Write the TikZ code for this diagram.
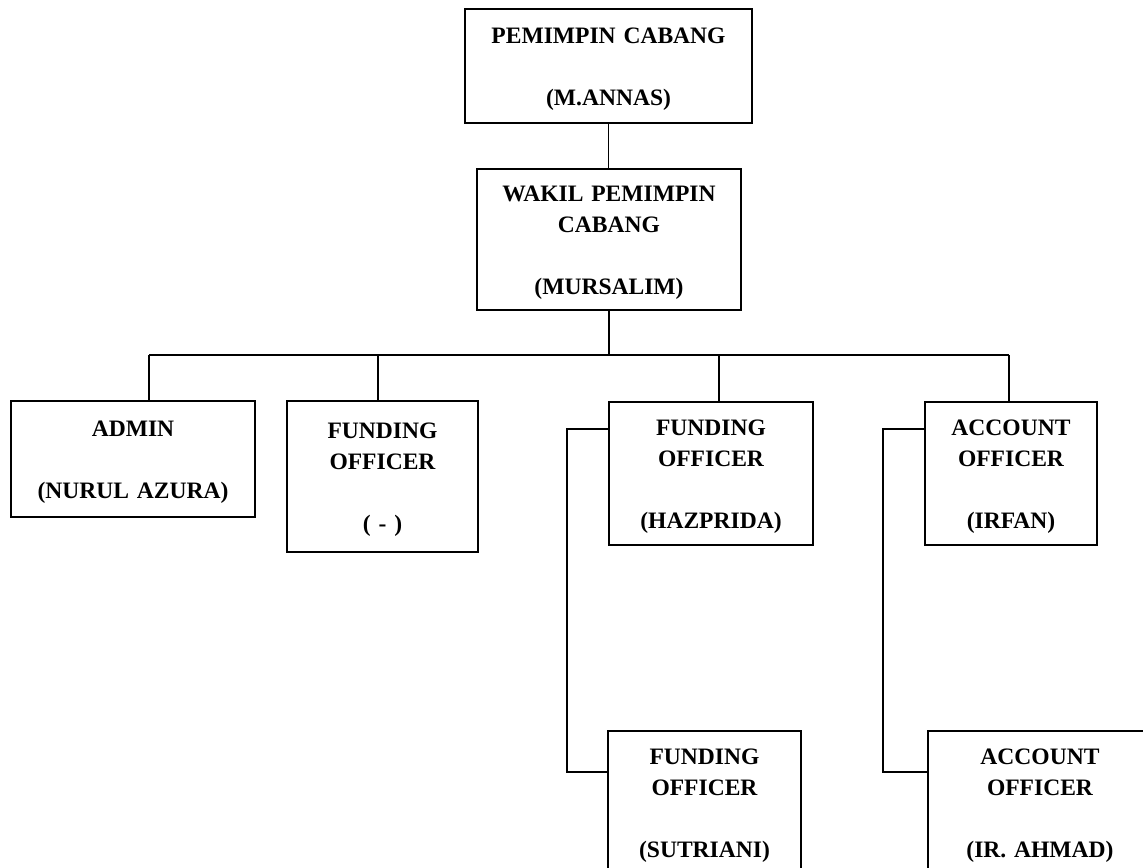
\documentclass[tikz,border=0pt]{standalone}
\usepackage{fontspec}
\setmainfont{Liberation Serif}
\usetikzlibrary{positioning}
\tikzset{%
	jabatan/.style = {draw, rectangle, line width=1.1pt, inner sep=0pt, align=center, font=\bfseries\fontsize{13.4}{17.6}\selectfont, execute at begin node={\rule{0pt}{12.7pt}}},
	garis/.style   = {line width=1pt},
}

\begin{document}
\begin{tikzpicture}
	\useasboundingbox (0,0) rectangle (22.86,-17.34);
	\clip (0,0) rectangle (22.86,-17.34);
	
	\node[jabatan, text width=5.74cm, minimum height=2.28cm] (pinca) at (12.17,-1.32) {PEMIMPIN CABANG\\[\baselineskip](M.ANNAS)};
	\node[jabatan, text width=5.28cm, minimum height=2.82cm] (wakil) at (12.18,-4.79) {WAKIL PEMIMPIN\\CABANG\\[\baselineskip](MURSALIM)};
	
	\node[jabatan, text width=4.88cm, minimum height=2.32cm] (admin) at (2.66,-9.18) {ADMIN\\[\baselineskip](NURUL AZURA)};
	\node[jabatan, text width=3.82cm, minimum height=3.02cm] (fo1) at (7.65,-9.53) {FUNDING\\OFFICER\\[\baselineskip]( - )};
	\node[jabatan, text width=4.08cm, minimum height=2.86cm] (fo2) at (14.22,-9.47) {FUNDING\\OFFICER\\[\baselineskip](HAZPRIDA)};
	\node[jabatan, text width=3.44cm, minimum height=2.86cm] (ao1) at (20.22,-9.47) {ACCOUNT\\OFFICER\\[\baselineskip](IRFAN)};
	\node[jabatan, text width=3.86cm, minimum height=2.84cm] (fo3) at (14.09,-16.04) {FUNDING\\OFFICER\\[\baselineskip](SUTRIANI)};
	\node[jabatan, text width=4.48cm, minimum height=2.84cm] (ao2) at (20.80,-16.04) {ACCOUNT\\OFFICER\\[\baselineskip](IR. AHMAD)};
	
	% garis komando
	\coordinate (jadmin) at (2.98,-7.10);
	\coordinate (jfo1) at (7.56,-7.10);
	\coordinate (jfo2) at (14.38,-7.10);
	\coordinate (jao1) at (20.18,-7.10);
	\draw[garis] (pinca.south) -- (pinca.south |- wakil.north);
	\draw[garis] (wakil.south) -- (wakil.south |- jadmin);
	\draw[garis] (jadmin) -- (jao1);
	\draw[garis] (jadmin) -- (jadmin |- admin.north);
	\draw[garis] (jfo1) -- (jfo1 |- fo1.north);
	\draw[garis] (jfo2) -- (jfo2 |- fo2.north);
	\draw[garis] (jao1) -- (jao1 |- ao1.north);
	
	% garis samping
	\coordinate (sfo1) at (11.34,-8.58);
	\coordinate (sfo2) at (11.34,-15.44);
	\coordinate (sao1) at (17.66,-8.58);
	\coordinate (sao2) at (17.66,-15.44);
	\draw[garis] (sfo1 -| fo2.west) -- (sfo1) -- (sfo2) -- (sfo2 -| fo3.west);
	\draw[garis] (sao1 -| ao1.west) -- (sao1) -- (sao2) -- (sao2 -| ao2.west);
\end{tikzpicture}
\end{document}
